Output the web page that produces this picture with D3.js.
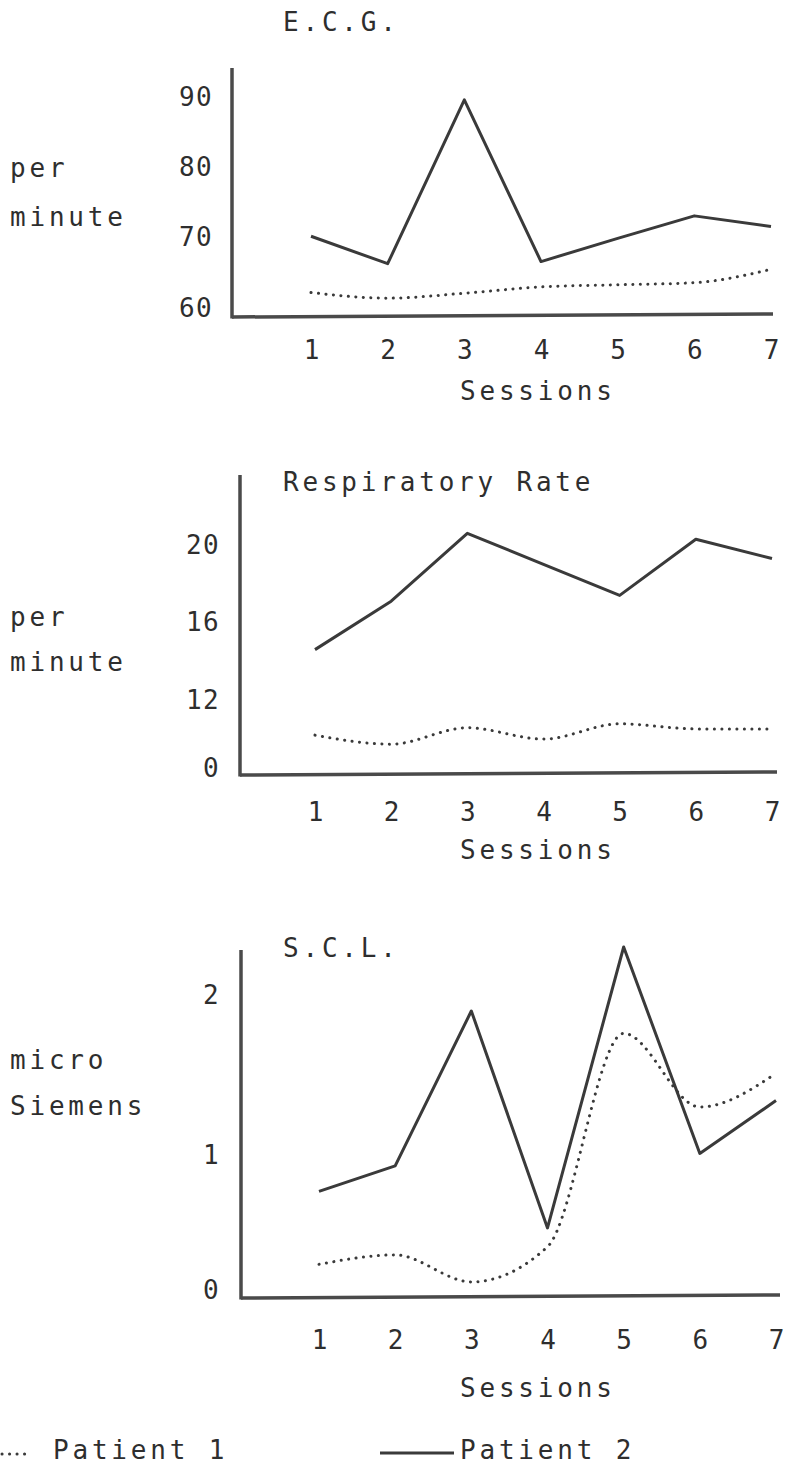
<!DOCTYPE html>
<html>
<head>
<meta charset="utf-8">
<script src="https://cdn.jsdelivr.net/npm/d3@7"></script>
<style>
  html, body { margin: 0; padding: 0; background: #ffffff; }
  svg { display: block; }
  text { font-family: "DejaVu Sans Mono", "Liberation Mono", monospace; fill: #2e2e2e; }
</style>
</head>
<body>
<svg id="chart" width="786" height="1467"></svg>
<script>
// ---------- data ----------
const sessions = [1, 2, 3, 4, 5, 6, 7];

const ecgPatient1 = [62.2, 61.4, 62.1, 63.0, 63.3, 63.6, 65.5];
const ecgPatient2 = [70.2, 66.3, 89.6, 66.6, 69.9, 73.1, 71.6];
const ecgTicks = [60, 70, 80, 90];

const respPatient1 = [5.8, 4.2, 7.1, 5.1, 7.8, 6.9, 6.9];
const respPatient2 = [14.6, 17.1, 20.6, 19.0, 17.4, 20.3, 19.3];
const respTicks = [0, 12, 16, 20];

const sclPatient1 = [0.19, 0.26, 0.06, 0.32, 1.76, 1.30, 1.51];
const sclPatient2 = [0.73, 0.92, 1.90, 0.46, 2.30, 1.01, 1.34];
const sclTicks = [0, 1, 2];

const panelTitles = ["E.C.G.", "Respiratory Rate", "S.C.L."];
const unitLabels = [["per", "minute"], ["per", "minute"], ["micro", "Siemens"]];
const xLabel = "Sessions";
const legendLabels = ["Patient 1", "Patient 2"];

// ---------- layout ----------
const panels = [
  { title: panelTitles[0], unit: unitLabels[0], p1: ecgPatient1, p2: ecgPatient2, ticks: ecgTicks,
    yDomain: [60, 90], yRange: [308, 97], axisX: 232, axisTop: 68, axisBottom: 317, axisRight: 773,
    xRange: [311, 771], titleY: 22, unitY: [168, 217], tickPad: 19, xTickY: 350, sessionsY: 391 },
  { title: panelTitles[1], unit: unitLabels[1], p1: respPatient1, p2: respPatient2, ticks: respTicks,
    yDomain: [0, 12, 20], yRange: [768, 700, 545], axisX: 240, axisTop: 475, axisBottom: 775, axisRight: 777,
    xRange: [315, 772], titleY: 482, unitY: [617, 662], tickPad: 20, xTickY: 812, sessionsY: 850 },
  { title: panelTitles[2], unit: unitLabels[2], p1: sclPatient1, p2: sclPatient2, ticks: sclTicks,
    yDomain: [0, 1, 2], yRange: [1290, 1155, 995], axisX: 241, axisTop: 950, axisBottom: 1298, axisRight: 780,
    xRange: [319, 776], titleY: 948, unitY: [1060, 1106], tickPad: 21, xTickY: 1340, sessionsY: 1388 }
];

const svg = d3.select("#chart");
const ink = "#3a3a3a";
const textStyle = sel => sel.attr("font-size", 26).attr("letter-spacing", 3.8);

panels.forEach(p => {
  const x = d3.scaleLinear().domain([1, 7]).range(p.xRange);
  const y = d3.scaleLinear().domain(p.yDomain).range(p.yRange);
  const g = svg.append("g");

  // axis lines
  g.append("line").attr("x1", p.axisX).attr("x2", p.axisX)
    .attr("y1", p.axisTop).attr("y2", p.axisBottom + 1.5)
    .attr("stroke", "#4a4a4a").attr("stroke-width", 3.5);
  g.append("line").attr("x1", p.axisX).attr("x2", p.axisRight)
    .attr("y1", p.axisBottom).attr("y2", p.axisBottom - 3)
    .attr("stroke", "#4a4a4a").attr("stroke-width", 3.5);

  // y tick labels
  const yAxis = g.append("g").attr("transform", `translate(${p.axisX},0)`)
    .call(d3.axisLeft(y).tickValues(p.ticks).tickSize(0).tickPadding(p.tickPad).tickFormat(d3.format("d")));
  yAxis.select(".domain").remove();
  yAxis.selectAll("text").attr("font-size", 26).attr("letter-spacing", 1.4)
    .attr("font-family", "DejaVu Sans Mono").attr("fill", "#2e2e2e");

  // x tick labels
  const xAxis = g.append("g").attr("transform", `translate(0,${p.xTickY})`)
    .call(d3.axisBottom(x).tickValues(sessions).tickSize(0).tickFormat(d3.format("d")));
  xAxis.select(".domain").remove();
  xAxis.selectAll("text").attr("y", 0).attr("dy", "0.36em").attr("font-size", 26)
    .attr("font-family", "DejaVu Sans Mono").attr("fill", "#2e2e2e");

  // title
  g.append("text").attr("x", 283).attr("y", p.titleY).attr("dy", "0.36em").text(p.title).call(textStyle);

  // unit labels
  p.unit.forEach((u, i) => {
    g.append("text").attr("x", 10).attr("y", p.unitY[i]).attr("dy", "0.36em").text(u).call(textStyle);
  });

  // Sessions
  g.append("text").attr("x", 460).attr("y", p.sessionsY).attr("dy", "0.36em").text(xLabel).call(textStyle);

  // Patient 2 solid
  const lineSolid = d3.line().x((d, i) => x(sessions[i])).y(d => y(d));
  g.append("path").datum(p.p2).attr("d", lineSolid)
    .attr("fill", "none").attr("stroke", ink).attr("stroke-width", 3)
    .attr("stroke-linejoin", "round");

  // Patient 1 dotted
  const lineDot = d3.line().curve(d3.curveMonotoneX).x((d, i) => x(sessions[i])).y(d => y(d));
  g.append("path").datum(p.p1).attr("d", lineDot)
    .attr("fill", "none").attr("stroke", ink).attr("stroke-width", 3)
    .attr("stroke-linecap", "round").attr("stroke-dasharray", "0.1 7.4");
});

// ---------- legend ----------
const lg = svg.append("g");
lg.append("line").attr("x1", 2).attr("x2", 32).attr("y1", 1454).attr("y2", 1454)
  .attr("stroke", ink).attr("stroke-width", 3).attr("stroke-linecap", "round").attr("stroke-dasharray", "0.1 7.4");
lg.append("text").attr("x", 53).attr("y", 1450).attr("dy", "0.36em").text(legendLabels[0]).call(textStyle);
lg.append("line").attr("x1", 380).attr("x2", 454).attr("y1", 1453).attr("y2", 1453)
  .attr("stroke", ink).attr("stroke-width", 3);
lg.append("text").attr("x", 460).attr("y", 1450).attr("dy", "0.36em").text(legendLabels[1]).call(textStyle);
</script>
</body>
</html>
